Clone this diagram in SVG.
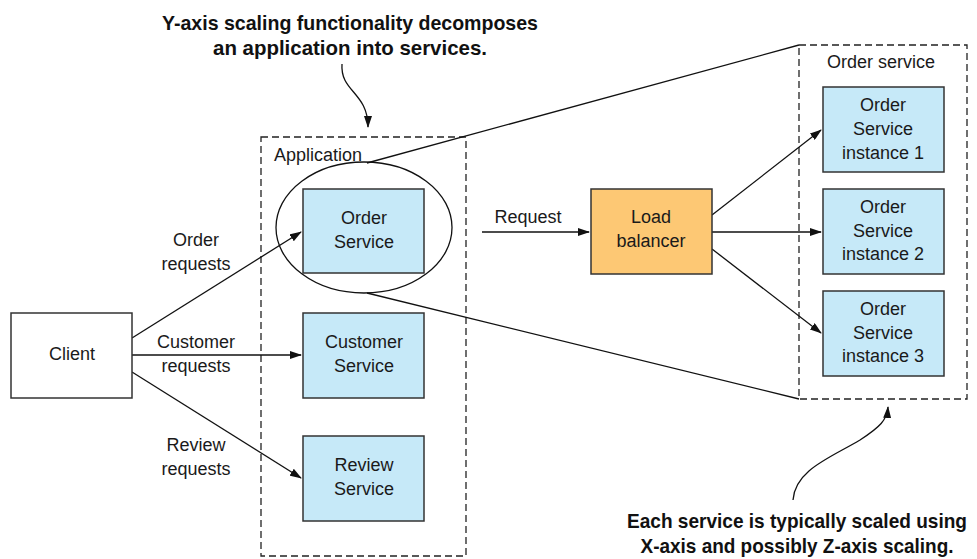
<svg xmlns="http://www.w3.org/2000/svg" width="977" height="559" viewBox="0 0 977 559">
<style>
.t{font-family:"Liberation Sans",Arial,sans-serif;font-size:18px;fill:#1a1a1a;text-anchor:middle}
.a{font-family:"Liberation Sans",Arial,sans-serif;font-size:21px;font-weight:bold;fill:#111;text-anchor:middle}
.box{stroke:#333;stroke-width:1.5}
.svc{fill:#C6E9F8}
.dash{fill:none;stroke:#222;stroke-width:1.3;stroke-dasharray:7 4}
.ln{fill:none;stroke:#111;stroke-width:1.3}
</style>
<defs>
<marker id="ah" markerWidth="12" markerHeight="8" refX="11" refY="4" orient="auto" markerUnits="userSpaceOnUse">
<path d="M0,0 L12,4 L0,8 Z" fill="#111"/>
</marker>
</defs>
<rect width="977" height="559" fill="#fff"/>

<g id="application">
<rect class="dash" x="261" y="137" width="205" height="419"/>
<text class="t" x="318" y="161">Application</text>
</g>
<g id="order-service-group">
<rect class="dash" x="799" y="45" width="168" height="354"/>
<text class="t" x="881" y="68">Order service</text>
</g>

<g id="connectors">
<line class="ln" x1="367" y1="163" x2="799" y2="45"/>
<line class="ln" x1="367" y1="293" x2="799" y2="399"/>
<line class="ln" x1="132" y1="338" x2="301" y2="232" marker-end="url(#ah)"/>
<line class="ln" x1="132" y1="355" x2="301" y2="355" marker-end="url(#ah)"/>
<line class="ln" x1="132" y1="372" x2="301" y2="478" marker-end="url(#ah)"/>
<line class="ln" x1="482" y1="232" x2="589" y2="232" marker-end="url(#ah)"/>
<line class="ln" x1="712" y1="215" x2="821" y2="130" marker-end="url(#ah)"/>
<line class="ln" x1="712" y1="232" x2="821" y2="232" marker-end="url(#ah)"/>
<line class="ln" x1="712" y1="249" x2="821" y2="333" marker-end="url(#ah)"/>
<path class="ln" d="M342,64 C340,92 368,92 368,127" marker-end="url(#ah)"/>
<path class="ln" d="M793,500 C795,470 830,458 860,440 C880,427 887,420 888,407" marker-end="url(#ah)"/>
<text class="t" x="196" y="246">Order</text>
<text class="t" x="196" y="270">requests</text>
<text class="t" x="196" y="348">Customer</text>
<text class="t" x="196" y="372">requests</text>
<text class="t" x="196" y="451">Review</text>
<text class="t" x="196" y="475">requests</text>
<text class="t" x="528" y="223">Request</text>
</g>

<g id="client">
<rect class="box" x="11" y="313" width="121" height="85" fill="#fff"/>
<text class="t" x="72" y="360">Client</text>
</g>
<g id="order-service">
<rect class="box svc" x="303" y="189" width="121" height="84"/>
<text class="t" x="364" y="224">Order</text>
<text class="t" x="364" y="248">Service</text>
</g>
<g id="order-ellipse">
<ellipse cx="364" cy="227.5" rx="88" ry="65.5" fill="none" stroke="#111" stroke-width="1.3"/>
</g>
<g id="customer-service">
<rect class="box svc" x="303" y="313" width="121" height="85"/>
<text class="t" x="364" y="348">Customer</text>
<text class="t" x="364" y="372">Service</text>
</g>
<g id="review-service">
<rect class="box svc" x="303" y="436" width="121" height="85"/>
<text class="t" x="364" y="471">Review</text>
<text class="t" x="364" y="495">Service</text>
</g>
<g id="load-balancer">
<rect class="box" x="591" y="189" width="121" height="85" fill="#FDC874"/>
<text class="t" x="651" y="223">Load</text>
<text class="t" x="651" y="247">balancer</text>
</g>
<g id="instance-1">
<rect class="box svc" x="823" y="87" width="121" height="85"/>
<text class="t" x="883" y="111">Order</text>
<text class="t" x="883" y="135">Service</text>
<text class="t" x="883" y="159">instance 1</text>
</g>
<g id="instance-2">
<rect class="box svc" x="823" y="189" width="121" height="85"/>
<text class="t" x="883" y="213">Order</text>
<text class="t" x="883" y="237">Service</text>
<text class="t" x="883" y="260">instance 2</text>
</g>
<g id="instance-3">
<rect class="box svc" x="823" y="291" width="121" height="85"/>
<text class="t" x="883" y="315">Order</text>
<text class="t" x="883" y="339">Service</text>
<text class="t" x="883" y="362">instance 3</text>
</g>

<g id="annotation-top">
<text class="a" x="350" y="30" textLength="376" lengthAdjust="spacingAndGlyphs">Y-axis scaling functionality decomposes</text>
<text class="a" x="350" y="55" textLength="274" lengthAdjust="spacingAndGlyphs">an application into services.</text>
</g>
<g id="annotation-bottom">
<text class="a" x="797" y="528" textLength="340" lengthAdjust="spacingAndGlyphs">Each service is typically scaled using</text>
<text class="a" x="797" y="553" textLength="313" lengthAdjust="spacingAndGlyphs">X-axis and possibly Z-axis scaling.</text>
</g>
</svg>
